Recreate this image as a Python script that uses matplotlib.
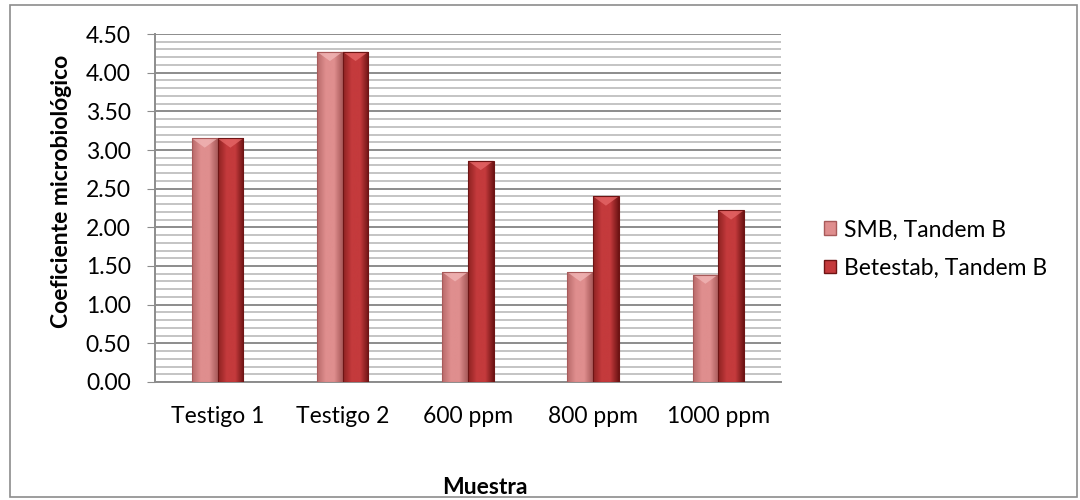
import numpy as np
import matplotlib.pyplot as plt
from matplotlib.patches import Rectangle, Polygon
from matplotlib.colors import LinearSegmentedColormap

plt.rcParams['font.family'] = ['Lato', 'DejaVu Sans']

# data
categories = ['Testigo 1', 'Testigo 2', '600 ppm', '800 ppm', '1000 ppm']
smb = [3.15, 4.27, 1.42, 1.42, 1.39]
betestab = [3.15, 4.27, 2.86, 2.40, 2.22]
series_names = ['SMB, Tandem B', 'Betestab, Tandem B']

# colours: (edge dark, mid, right dark, bevel light)
smb_cols = ['#b86a6a', '#df8e8e', '#a85a5a', '#f2b8b8']
bet_cols = ['#8e2222', '#c43a3c', '#6e1414', '#e86a6a']

fs = 16.5

fig = plt.figure(figsize=(10.8, 5), dpi=100)
ax = fig.add_axes([0.1435, 0.236, 0.5795, 0.696])

# outer chart border
fig.patches.append(Rectangle((0.009, 0.006), 0.988, 0.984, transform=fig.transFigure,
                             fill=False, edgecolor='#8c8c8c', lw=1.2))

x = np.arange(len(categories))
w = 0.205


def draw_bars(xs, vals, cols):
    cmap = LinearSegmentedColormap.from_list('g', [cols[0], cols[1], cols[1], cols[2]])
    grad = np.linspace(0, 1, 64).reshape(1, -1)
    for xi, v in zip(xs, vals):
        rect = Rectangle((xi - w / 2, 0), w, v, facecolor=cols[1], edgecolor='none', zorder=3)
        ax.add_patch(rect)
        im = ax.imshow(grad, cmap=cmap, extent=[xi - w / 2, xi + w / 2, 0, v],
                       aspect='auto', zorder=3.5)
        im.set_clip_path(rect)
        # top bevel
        tri = Polygon([[xi - w / 2, v], [xi + w / 2, v], [xi, v - 0.12]], closed=True,
                      facecolor=cols[3], edgecolor='none', alpha=0.75, zorder=4)
        ax.add_patch(tri)
        ax.add_patch(Rectangle((xi - w / 2, 0), w, v, fill=False, edgecolor=cols[2],
                               lw=0.8, zorder=4.5))


draw_bars(x - w / 2, smb, smb_cols)
draw_bars(x + w / 2, betestab, bet_cols)

ax.set_xlim(-0.5, len(categories) - 0.5)
ax.set_ylim(0, 4.5)
yt = np.arange(0, 4.51, 0.5)
ax.set_yticks(yt)
ax.set_yticklabels(['%.2f' % t for t in yt], fontsize=fs)
ax.set_yticks(np.arange(0, 4.51, 0.1), minor=True)
ax.set_xticks(x)
ax.set_xticklabels(categories, fontsize=fs)

ax.grid(which='major', axis='y', color='#8c8c8c', lw=1.4, zorder=0)
ax.grid(which='minor', axis='y', color='#c4c4c4', lw=1.4, zorder=0)
ax.set_axisbelow(True)
ax.tick_params(axis='y', which='major', length=5.5, color='#8c8c8c', pad=12)
ax.tick_params(axis='y', which='minor', length=0)
ax.tick_params(axis='x', length=0, pad=17)

for s in ['top', 'right']:
    ax.spines[s].set_visible(False)
for s in ['left', 'bottom']:
    ax.spines[s].set_color('#8c8c8c')
    ax.spines[s].set_linewidth(1.4)

fig.text(62 / 1080, 1 - 191 / 500, 'Coeficiente microbiológico', fontsize=fs,
         fontweight='bold', rotation=90, ha='center', va='center')
fig.text(485 / 1080, 1 - 487 / 500, 'Muestra', fontsize=fs, fontweight='bold',
         ha='center', va='center')

# legend
handles = [Rectangle((0, 0), 1, 1, facecolor=smb_cols[1], edgecolor=smb_cols[2]),
           Rectangle((0, 0), 1, 1, facecolor=bet_cols[1], edgecolor=bet_cols[2])]
fig.legend(handles, series_names, loc='center left', bbox_to_anchor=(0.752, 0.502),
           frameon=False, fontsize=fs, handlelength=0.55, handleheight=0.55,
           handletextpad=0.35, labelspacing=0.75, borderpad=0)

fig.savefig('out.png', dpi=100)
